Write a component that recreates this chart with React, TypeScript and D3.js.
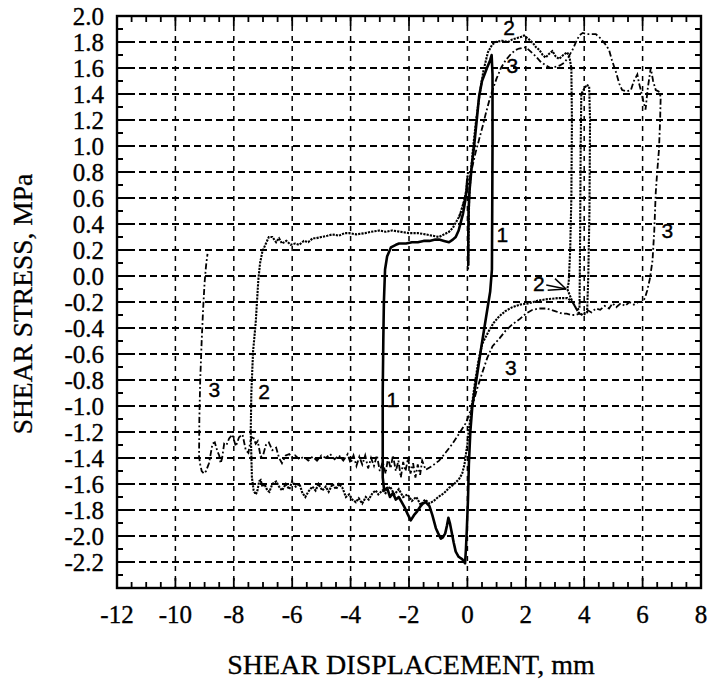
import React from "react";
import * as d3 from "d3";

const W = 708, H = 679;
const xTicks = [-12, -10, -8, -6, -4, -2, 0, 2, 4, 6, 8];
const yTicks = [2.0, 1.8, 1.6, 1.4, 1.2, 1.0, 0.8, 0.6, 0.4, 0.2, 0.0, -0.2, -0.4, -0.6, -0.8, -1.0, -1.2, -1.4, -1.6, -1.8, -2.0, -2.2];
const xTitle = "SHEAR DISPLACEMENT, mm";
const yTitle = "SHEAR STRESS, MPa";

const curve1: [number, number][] = [
  [0.03,0.08],[0.03,0.3],[0.04,0.5],[0.07,0.65],[0.15,0.85],[0.23,1.0],[0.32,1.2],[0.4,1.38],[0.5,1.5],[0.67,1.6],[0.78,1.66],[0.83,1.7],[0.86,1.55],[0.86,1.0],[0.85,0.5],[0.84,0.05],[0.78,-0.12],[0.68,-0.26],[0.58,-0.4],[0.46,-0.57],[0.32,-0.78],[0.17,-1.0],[0.1,-1.2],[0.05,-1.45],[0.02,-1.72],[-0.02,-1.95],[-0.05,-2.1],[-0.08,-2.21],
  [-0.17,-2.18],[-0.3,-2.16],[-0.4,-2.12],[-0.47,-2.05],[-0.53,-1.98],[-0.6,-1.9],[-0.65,-1.86],[-0.7,-1.92],[-0.76,-1.98],[-0.84,-2.01],[-0.91,-2.02],[-1.0,-1.98],[-1.08,-1.94],[-1.2,-1.84],[-1.3,-1.77],[-1.43,-1.74],[-1.52,-1.75],[-1.6,-1.77],[-1.72,-1.81],[-1.83,-1.84],[-1.94,-1.88],[-2.05,-1.83],[-2.15,-1.78],[-2.25,-1.74],[-2.35,-1.7],[-2.45,-1.72],[-2.55,-1.67],[-2.65,-1.7],[-2.75,-1.63],[-2.85,-1.65],[-2.9,-1.55],
  [-2.9,-1.3],[-2.9,-0.9],[-2.88,-0.5],[-2.86,-0.2],[-2.82,0.05],[-2.75,0.15],[-2.62,0.22],[-2.45,0.24],[-2.34,0.25],[-2.1,0.25],[-1.9,0.26],[-1.7,0.26],[-1.5,0.27],[-1.3,0.27],[-1.1,0.28],[-0.97,0.28],[-0.8,0.27],[-0.63,0.26],[-0.5,0.28],[-0.4,0.3],[-0.3,0.35],[-0.23,0.41],[-0.15,0.48],[-0.11,0.53],[-0.06,0.6],[-0.03,0.66],[0.0,0.75]
];

const curve2: [number, number][] = [
  [0.02,0.05],[0.04,0.3],[0.06,0.6],[0.12,0.8],[0.2,1.0],[0.3,1.2],[0.42,1.4],[0.55,1.58],[0.7,1.72],[0.85,1.78],[0.97,1.8],[1.2,1.81],[1.4,1.8],[1.54,1.82],[1.7,1.83],[1.85,1.84],[1.94,1.85],[2.05,1.83],[2.11,1.82],[2.25,1.79],[2.35,1.76],[2.46,1.74],[2.58,1.7],[2.68,1.68],[2.8,1.71],[2.91,1.73],[3.02,1.69],[3.14,1.67],[3.28,1.7],[3.42,1.72],[3.5,1.68],[3.56,1.6],[3.58,1.2],[3.56,0.6],[3.52,0.2],[3.47,-0.05],[3.42,-0.1],
  [3.6,-0.2],[3.75,-0.26],[3.84,-0.25],[3.86,0.3],[3.88,1.0],[3.9,1.4],[4.0,1.44],[4.08,1.47],[4.17,1.46],[4.2,1.2],[4.18,0.5],[4.14,0.0],[4.1,-0.28],
  [3.95,-0.3],[3.8,-0.28],[3.6,-0.2],[3.42,-0.17],[3.1,-0.17],[2.68,-0.18],[2.4,-0.19],[2.11,-0.21],[1.8,-0.22],[1.54,-0.24],[1.3,-0.27],[1.09,-0.31],[0.9,-0.36],[0.74,-0.42],[0.51,-0.52],[0.38,-0.65],[0.26,-0.82],[0.15,-1.0],[0.1,-1.1],[0.04,-1.2],[0.0,-1.29],[-0.1,-1.45],[-0.18,-1.52],[-0.28,-1.56],[-0.45,-1.6],[-0.63,-1.63],[-0.8,-1.67],[-1.0,-1.7],[-1.15,-1.73],[-1.3,-1.75],[-1.45,-1.72],[-1.6,-1.76],[-1.75,-1.7],[-1.9,-1.73],[-2.05,-1.68],[-2.2,-1.7],[-2.35,-1.64],[-2.5,-1.68],[-2.65,-1.62],[-2.8,-1.67],[-2.91,-1.65],[-3.05,-1.68],[-3.14,-1.65],[-3.25,-1.67],[-3.38,-1.72],[-3.48,-1.7],[-3.6,-1.75],[-3.72,-1.71],[-3.82,-1.74],[-3.94,-1.72],[-4.05,-1.68],[-4.16,-1.7],[-4.28,-1.63],[-4.4,-1.6],[-4.5,-1.64],[-4.62,-1.6],[-4.75,-1.66],[-4.85,-1.62],[-4.97,-1.65],[-5.1,-1.6],[-5.2,-1.65],[-5.31,-1.62],[-5.45,-1.66],[-5.55,-1.7],[-5.65,-1.67],[-5.75,-1.6],[-5.88,-1.62],[-6.0,-1.58],[-6.1,-1.64],[-6.22,-1.6],[-6.35,-1.65],[-6.45,-1.62],[-6.55,-1.58],[-6.68,-1.6],[-6.78,-1.66],[-6.85,-1.65],[-6.95,-1.6],[-7.02,-1.62],[-7.08,-1.57],[-7.13,-1.58],[-7.2,-1.66],[-7.25,-1.68],[-7.32,-1.65],[-7.38,-1.55],
  [-7.42,-1.2],[-7.4,-0.9],[-7.34,-0.58],[-7.25,-0.36],[-7.16,-0.03],[-7.1,0.1],[-7.02,0.19],[-6.9,0.25],[-6.8,0.3],[-6.68,0.3],[-6.55,0.26],[-6.45,0.29],[-6.35,0.25],[-6.2,0.27],[-6.05,0.24],[-5.9,0.25],[-5.76,0.24],[-5.6,0.27],[-5.45,0.26],[-5.3,0.29],[-5.19,0.29],[-5.0,0.3],[-4.8,0.31],[-4.62,0.32],[-4.4,0.31],[-4.2,0.33],[-4.05,0.33],[-3.8,0.32],[-3.5,0.33],[-3.3,0.34],[-3.02,0.35],[-2.8,0.34],[-2.57,0.35],[-2.3,0.34],[-2.0,0.33],[-1.7,0.33],[-1.43,0.32],[-1.2,0.31],[-0.97,0.3],[-0.8,0.32],[-0.63,0.34],[-0.5,0.37],[-0.4,0.41],[-0.3,0.45],[-0.23,0.49],[-0.11,0.58],[-0.03,0.67],[0.02,0.8]
];

const curve3: [number, number][] = [
  [-0.28,0.45],[-0.15,0.55],[-0.05,0.61],[0.05,0.72],[0.17,0.84],[0.28,0.95],[0.4,1.05],[0.52,1.15],[0.63,1.25],[0.75,1.35],[0.86,1.43],[1.0,1.52],[1.15,1.6],[1.31,1.66],[1.5,1.71],[1.66,1.74],[1.77,1.75],[2.0,1.76],[2.15,1.73],[2.34,1.69],[2.5,1.65],[2.68,1.62],[2.85,1.6],[3.03,1.61],[3.17,1.62],[3.31,1.64],[3.45,1.68],[3.6,1.74],[3.72,1.8],[3.83,1.85],[3.95,1.87],[4.1,1.86],[4.25,1.86],[4.4,1.86],[4.55,1.83],[4.7,1.79],[4.85,1.74],[4.95,1.66],[5.1,1.56],[5.2,1.48],[5.3,1.43],[5.45,1.42],[5.6,1.43],[5.7,1.5],[5.82,1.55],[5.88,1.48],[5.94,1.43],[6.02,1.35],[6.1,1.28],[6.18,1.45],[6.28,1.6],[6.36,1.5],[6.45,1.43],[6.55,1.42],[6.62,1.38],[6.6,1.2],[6.56,0.97],[6.5,0.8],[6.45,0.64],[6.4,0.35],[6.34,0.12],[6.25,-0.02],[6.16,-0.11],[6.08,-0.17],[5.99,-0.2],
  [5.85,-0.2],[5.7,-0.22],[5.55,-0.2],[5.4,-0.23],[5.25,-0.21],[5.1,-0.24],[4.97,-0.21],[4.85,-0.25],[4.7,-0.23],[4.55,-0.26],[4.4,-0.25],[4.25,-0.28],[4.1,-0.26],[3.95,-0.3],[3.83,-0.29],[3.7,-0.3],[3.55,-0.3],[3.4,-0.29],[3.25,-0.29],[3.0,-0.27],[2.7,-0.25],[2.45,-0.25],[2.23,-0.26],[2.0,-0.29],[1.8,-0.33],[1.55,-0.37],[1.31,-0.42],[1.1,-0.48],[0.86,-0.54],[0.68,-0.63],[0.5,-0.75],[0.33,-0.87],[0.17,-1.0],[0.05,-1.07],[-0.05,-1.13],[-0.25,-1.2],[-0.51,-1.29],[-0.75,-1.36],[-0.97,-1.42],[-1.2,-1.46],[-1.43,-1.49],
  [-1.55,-1.42],[-1.62,-1.53],[-1.7,-1.45],[-1.78,-1.55],[-1.86,-1.44],[-1.95,-1.52],[-2.03,-1.4],[-2.12,-1.5],[-2.2,-1.43],[-2.28,-1.55],[-2.36,-1.42],[-2.45,-1.5],[-2.55,-1.38],[-2.63,-1.48],[-2.72,-1.4],[-2.8,-1.52],[-2.9,-1.43],[-3.0,-1.5],[-3.1,-1.38],[-3.2,-1.46],[-3.3,-1.4],[-3.4,-1.48],[-3.5,-1.38],[-3.6,-1.45],[-3.7,-1.39],[-3.8,-1.46],[-3.9,-1.38],[-4.0,-1.44],[-4.1,-1.37],[-4.25,-1.42],[-4.4,-1.38],[-4.55,-1.41],[-4.7,-1.37],[-4.85,-1.4],[-5.0,-1.38],[-5.15,-1.42],[-5.3,-1.39],[-5.45,-1.42],[-5.6,-1.39],[-5.75,-1.41],[-5.9,-1.38],[-6.0,-1.4],[-6.1,-1.37],[-6.22,-1.38],[-6.35,-1.44],[-6.45,-1.4],[-6.55,-1.32],[-6.68,-1.34],[-6.8,-1.28],[-6.9,-1.3],[-7.0,-1.38],[-7.08,-1.39],[-7.18,-1.27],[-7.25,-1.29],[-7.35,-1.23],[-7.42,-1.26],[-7.5,-1.36],[-7.59,-1.34],[-7.7,-1.22],[-7.82,-1.24],[-7.93,-1.31],[-8.05,-1.22],[-8.16,-1.25],[-8.25,-1.3],[-8.33,-1.29],[-8.4,-1.4],[-8.45,-1.44],[-8.5,-1.38],[-8.56,-1.35],[-8.65,-1.28],[-8.73,-1.29],[-8.8,-1.38],[-8.85,-1.44],[-8.95,-1.5],[-9.02,-1.52],[-9.1,-1.5],[-9.15,-1.45],[-9.19,-1.39],
  [-9.18,-1.1],[-9.15,-0.8],[-9.1,-0.5],[-9.05,-0.25],[-9.0,-0.05],[-8.95,0.08],[-8.9,0.17]
];

const labels: { t: string; x: number; y: number }[] = [
  { t: "1", x: 1.2, y: 0.32 },
  { t: "1", x: -2.57, y: -0.95 },
  { t: "2", x: 1.43, y: 1.91 },
  { t: "2", x: -6.96, y: -0.89 },
  { t: "2", x: 2.45, y: -0.06 },
  { t: "3", x: 1.54, y: 1.62 },
  { t: "3", x: -8.67, y: -0.87 },
  { t: "3", x: 1.49, y: -0.7 },
  { t: "3", x: 6.85, y: 0.35 },
];

export default function App() {
  const L = 117, R = 701, T = 16, B = 588;
  const x = d3.scaleLinear().domain([-12, 8]).range([L, R]);
  const y = d3.scaleLinear().domain([-2.4, 2.0]).range([B, T]);
  const line = d3.line<[number, number]>().x(d => x(d[0])).y(d => y(d[1]));
  const serif = "'Liberation Serif', 'Times New Roman', serif";
  const sans = "'Liberation Sans', Arial, sans-serif";

  const xMinor = d3.range(-12, 8.01, 0.5);
  const yMinor = d3.range(-2.4, 2.001, 0.1);
  const gridX = d3.range(-10, 7, 2);
  const gridY = d3.range(-2.2, 1.9, 0.2);

  return (
    <svg width={W} height={H} style={{ position: "absolute", left: 0, top: 0, background: "#fff" }}>
      <rect x={0} y={0} width={W} height={H} fill="#fff" />
      {gridY.map((v, i) => (
        <line key={"gy" + i} x1={L} x2={R} y1={y(v)} y2={y(v)} stroke="#000" strokeWidth={1.8} strokeDasharray="7,4" />
      ))}
      {gridX.map((v, i) => (
        <line key={"gx" + i} x1={x(v)} x2={x(v)} y1={T} y2={B} stroke="#000" strokeWidth={1.5} strokeDasharray="5,5" />
      ))}
      {xMinor.map((v, i) => {
        const major = Math.abs(v - Math.round(v / 2) * 2) < 1e-6;
        const len = major ? 10 : 6;
        return (
          <g key={"xt" + i}>
            <line x1={x(v)} x2={x(v)} y1={B} y2={B - len} stroke="#000" strokeWidth={1.8} />
            <line x1={x(v)} x2={x(v)} y1={T} y2={T + len} stroke="#000" strokeWidth={1.8} />
          </g>
        );
      })}
      {yMinor.map((v, i) => {
        const major = Math.abs(v * 5 - Math.round(v * 5)) < 1e-6;
        const len = major ? 12 : 6;
        return (
          <g key={"yt" + i}>
            <line x1={L} x2={L + len} y1={y(v)} y2={y(v)} stroke="#000" strokeWidth={2} />
            <line x1={R} x2={R - len} y1={y(v)} y2={y(v)} stroke="#000" strokeWidth={2} />
          </g>
        );
      })}
      <path d={line(curve3) || ""} fill="none" stroke="#000" strokeWidth={1.8} strokeDasharray="6,2.5,1.8,2.5" />
      <path d={line(curve2) || ""} fill="none" stroke="#000" strokeWidth={2.1} strokeDasharray="2.2,1.1" />
      <path d={line(curve1) || ""} fill="none" stroke="#000" strokeWidth={2.6} strokeLinejoin="round" />
      <rect x={L} y={T} width={R - L} height={B - T} fill="none" stroke="#000" strokeWidth={2.4} />
      {labels.map((l, i) => (
        <text key={"lb" + i} x={x(l.x)} y={y(l.y)} fontFamily={sans} fontSize={21} textAnchor="middle" dominantBaseline="central" fill="#000" stroke="#000" strokeWidth={0.4}>{l.t}</text>
      ))}
      <g stroke="#000" strokeWidth={1.5} fill="none">
        <line x1={x(2.7)} y1={y(-0.07)} x2={x(3.38)} y2={y(-0.1)} />
        <line x1={x(2.75)} y1={y(-0.11)} x2={x(3.38)} y2={y(-0.1)} />
        <line x1={x(3.0)} y1={y(-0.02)} x2={x(3.38)} y2={y(-0.1)} />
      </g>
      {yTicks.map((v, i) => (
        <text key={"yl" + i} x={104} y={y(v)} fontFamily={serif} fontSize={25} textAnchor="end" dominantBaseline="central" fill="#000" stroke="#000" strokeWidth={0.35}>{v.toFixed(1)}</text>
      ))}
      {xTicks.map((v, i) => (
        <text key={"xl" + i} x={x(v)} y={614} fontFamily={serif} fontSize={25} textAnchor="middle" dominantBaseline="central" fill="#000" stroke="#000" strokeWidth={0.35}>{String(v)}</text>
      ))}
      <text x={411} y={664} fontFamily={serif} fontSize={28} textAnchor="middle" dominantBaseline="central" fill="#000" stroke="#000" strokeWidth={0.3}>{xTitle}</text>
      <text transform={`translate(22,${304}) rotate(-90)`} fontFamily={serif} fontSize={27.5} textAnchor="middle" dominantBaseline="central" fill="#000" stroke="#000" strokeWidth={0.3}>{yTitle}</text>
    </svg>
  );
}
